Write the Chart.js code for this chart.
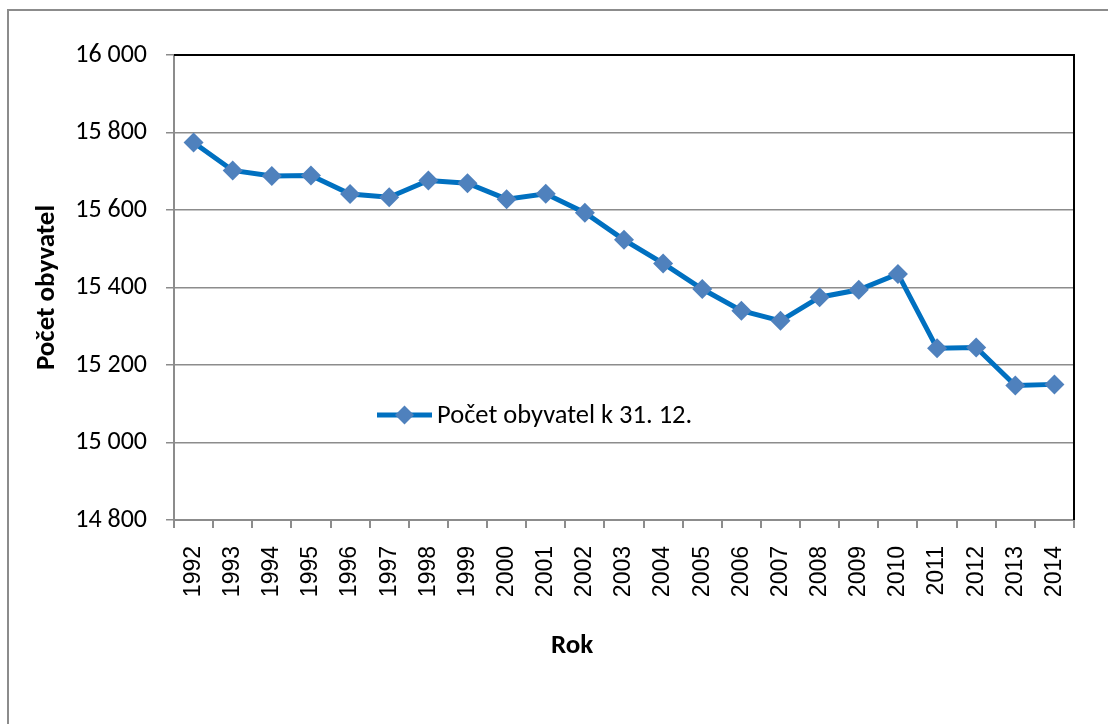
<!DOCTYPE html>
<html>
<head>
<meta charset="utf-8">
<script src="https://cdn.jsdelivr.net/npm/chart.js@4"></script>
<style>
  html, body { margin: 0; padding: 0; background: #fff; overflow: hidden; }
  #wrap { position: relative; width: 1108px; height: 724px; }
  #frame { position: absolute; left: 7px; top: 9px; width: 1200px; height: 800px;
           border-left: 2px solid #8c8c8c; border-top: 2px solid #8c8c8c; }
  canvas { position: absolute; left: 0; top: 0; }
</style>
</head>
<body>
<div id="wrap">
  <div id="frame"></div>
  <canvas id="c" width="1108" height="724"></canvas>
</div>
<script>
const years = ['1992','1993','1994','1995','1996','1997','1998','1999','2000','2001','2002','2003','2004','2005','2006','2007','2008','2009','2010','2011','2012','2013','2014'];
const population = [15774, 15702, 15688, 15689, 15641, 15633, 15676, 15669, 15628, 15642, 15593, 15523, 15462, 15396, 15340, 15314, 15375, 15394, 15435, 15243, 15245, 15147, 15150];
const seriesLabel = 'Počet obyvatel k 31. 12.';
const yTitle = 'Počet obyvatel';
const xTitle = 'Rok';
const yMin = 14800, yMax = 16000, yStep = 200;

const LINE = '#0070C0';
const MARK = '#4F81BD';
const GRID = '#8c8c8c';
const LABEL_FONT = 'Carlito, Lato, sans-serif';

function fmt(v) { return String(v).replace(/\B(?=(\d{3})+(?!\d))/g, ' '); }

const extras = {
  id: 'extras',
  beforeDatasetsDraw(chart) {
    const {ctx, chartArea: a} = chart;
    ctx.save();
    ctx.strokeStyle = '#000';
    ctx.lineWidth = 2;
    ctx.beginPath();
    ctx.moveTo(a.left, a.top);
    ctx.lineTo(a.right, a.top);
    ctx.lineTo(a.right, a.bottom);
    ctx.stroke();
    ctx.restore();
  },
  afterDraw(chart) {
    const {ctx, chartArea: a} = chart;
    ctx.save();
    // legend inside plot
    const ly = a.top + 360;
    const lx0 = a.left + 203, lx1 = a.left + 258;
    ctx.strokeStyle = LINE;
    ctx.lineWidth = 5;
    ctx.beginPath();
    ctx.moveTo(lx0, ly); ctx.lineTo(lx1, ly);
    ctx.stroke();
    const mx = (lx0 + lx1) / 2, r = 9.5;
    ctx.fillStyle = MARK;
    ctx.beginPath();
    ctx.moveTo(mx - r, ly); ctx.lineTo(mx, ly - r); ctx.lineTo(mx + r, ly); ctx.lineTo(mx, ly + r);
    ctx.closePath(); ctx.fill();
    ctx.fillStyle = '#000';
    ctx.font = '26.5px ' + LABEL_FONT;
    ctx.textBaseline = 'middle';
    ctx.textAlign = 'left';
    ctx.fillText(seriesLabel, lx1 + 5, ly + 1);
    // x axis title
    ctx.font = 'bold 27px ' + LABEL_FONT;
    ctx.textAlign = 'center';
    ctx.textBaseline = 'alphabetic';
    ctx.fillText(xTitle, 572, 653);
    ctx.restore();
  }
};

new Chart(document.getElementById('c'), {
  type: 'line',
  data: {
    labels: years,
    datasets: [{
      label: seriesLabel,
      data: population,
      borderColor: LINE,
      borderWidth: 5,
      backgroundColor: MARK,
      pointStyle: 'rectRot',
      pointRadius: 10,
      pointHoverRadius: 10,
      pointBorderWidth: 0,
      pointBackgroundColor: MARK,
      tension: 0,
      fill: false
    }]
  },
  options: {
    responsive: false,
    animation: false,
    devicePixelRatio: 1,
    layout: { padding: { top: 55, right: 34, left: 0, bottom: 0 } },
    plugins: { legend: { display: false }, tooltip: { enabled: false } },
    scales: {
      x: {
        type: 'category',
        offset: true,
        grid: { offset: true, drawOnChartArea: false, drawTicks: true, tickLength: 8, color: GRID, lineWidth: 2 },
        border: { color: GRID, width: 2 },
        ticks: { minRotation: 90, maxRotation: 90, padding: 18, color: '#000', autoSkip: false,
                 font: { family: 'Liberation Sans, Arial, sans-serif', size: 23 } },
        afterFit(s) { s.height = 204; }
      },
      y: {
        min: yMin, max: yMax,
        grid: { color: GRID, lineWidth: 1.5, tickLength: 8, drawTicks: true },
        border: { color: GRID, width: 2 },
        ticks: { stepSize: yStep, padding: 19, color: '#000',
                 font: { family: LABEL_FONT, size: 26 },
                 callback: (v) => fmt(v) },
        title: { display: true, text: yTitle, color: '#000',
                 font: { family: LABEL_FONT, size: 27, weight: 'bold' },
                 padding: { top: 31, bottom: 0 } },
        afterFit(s) { s.width = 174; }
      }
    }
  },
  plugins: [extras]
});
</script>
</body>
</html>
